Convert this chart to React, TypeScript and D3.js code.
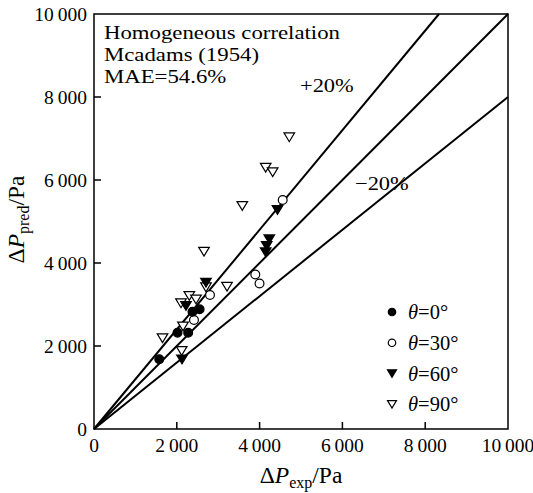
import React from "react";
import * as d3 from "d3";

// [ΔP_exp, ΔP_pred] in Pa
const theta0: [number, number][] = [
  [1577, 1680],
  [2017, 2320],
  [2275, 2320],
  [2379, 2827],
  [2551, 2884],
];
const theta30: [number, number][] = [
  [2415, 2627],
  [2802, 3229],
  [3896, 3723],
  [3998, 3506],
  [4558, 5518],
];
const theta60: [number, number][] = [
  [2705, 3525],
  [2222, 2964],
  [2126, 1675],
  [4234, 4571],
  [4171, 4410],
  [4147, 4258],
  [4432, 5277],
];
const theta90: [number, number][] = [
  [1655, 2186],
  [2101, 3029],
  [2302, 3205],
  [2464, 3120],
  [2150, 2470],
  [2118, 1880],
  [3213, 3429],
  [2705, 3414],
  [4717, 7029],
  [4147, 6296],
  [4316, 6186],
  [3582, 5373],
  [2657, 4272],
];
const ticks = [0, 2000, 4000, 6000, 8000, 10000];
const refLines = [1.2, 1, 0.8];
const legendLabels = ["0", "30", "60", "90"];
const titleLines = ["Homogeneous correlation", "Mcadams (1954)", "MAE=54.6%"];

const W = 533;
const H = 493;
const m = { left: 94, right: 25, top: 14, bottom: 64 };
const font = "Liberation Serif, Times New Roman, serif";

const fmt = (v: number) => {
  const s = String(v);
  return s.length > 3 ? s.slice(0, -3) + "\u2009" + s.slice(-3) : s;
};

type Kind = "fc" | "oc" | "ft" | "ot";

const Marker = ({ x, y, kind, s = 1 }: { x: number; y: number; kind: Kind; s?: number }) => {
  if (kind === "fc" || kind === "oc") {
    return (
      <circle
        cx={x}
        cy={y}
        r={4.4 * s}
        fill={kind === "fc" ? "#000" : "#fff"}
        stroke="#000"
        strokeWidth={1.2}
      />
    );
  }
  const w = 5.3 * s;
  const h = 8.8 * s;
  const pts = `${x - w},${y - h / 2} ${x + w},${y - h / 2} ${x},${y + h / 2}`;
  return (
    <polygon
      points={pts}
      fill={kind === "ft" ? "#000" : "#fff"}
      stroke="#000"
      strokeWidth={1.2}
      strokeLinejoin="miter"
    />
  );
};

export default function App() {
  const x = d3.scaleLinear().domain([0, 10000]).range([m.left, W - m.right]);
  const y = d3.scaleLinear().domain([0, 10000]).range([H - m.bottom, m.top]);
  const [x0, x1] = x.range();
  const [y0, y1] = y.range();

  const line = d3
    .line<[number, number]>()
    .x((d) => x(d[0]))
    .y((d) => y(d[1]));

  const series: { data: [number, number][]; kind: Kind }[] = [
    { data: theta90, kind: "ot" },
    { data: theta30, kind: "oc" },
    { data: theta0, kind: "fc" },
    { data: theta60, kind: "ft" },
  ];
  const legendKinds: Kind[] = ["fc", "oc", "ft", "ot"];

  return (
    <svg
      width={W}
      height={H}
      style={{ position: "absolute", left: 0, top: 0, background: "#fff", fontFamily: font }}
    >
      {/* reference lines: +20%, 0, -20% */}
      {refLines.map((k) => {
        const xe = Math.min(10000, 10000 / k);
        return (
          <path
            key={k}
            d={line([
              [0, 0],
              [xe, xe * k],
            ]) ?? ""}
            fill="none"
            stroke="#000"
            strokeWidth={2}
          />
        );
      })}

      {/* points */}
      {series.map((s) =>
        s.data.map((d, i) => <Marker key={s.kind + i} x={x(d[0])} y={y(d[1])} kind={s.kind} />)
      )}

      {/* frame */}
      <rect x={x0} y={y1} width={x1 - x0} height={y0 - y1} fill="none" stroke="#000" strokeWidth={1.5} />

      {/* ticks */}
      {ticks.slice(1, -1).map((t) => (
        <g key={t}>
          <line x1={x(t)} x2={x(t)} y1={y0} y2={y0 - 7} stroke="#000" strokeWidth={1.5} />
          <line x1={x0} x2={x0 + 7} y1={y(t)} y2={y(t)} stroke="#000" strokeWidth={1.5} />
        </g>
      ))}
      {ticks.map((t) => (
        <g key={"l" + t} fontSize={19.5}>
          <text x={x(t)} y={y0 + 23} textAnchor="middle">
            {fmt(t)}
          </text>
          <text x={x0 - 7} y={y(t) + 6.5} textAnchor="end">
            {fmt(t)}
          </text>
        </g>
      ))}

      {/* axis titles */}
      <text x={(x0 + x1) / 2} y={483} textAnchor="middle" fontSize={23.5}>
        {"\u0394"}
        <tspan fontStyle="italic">P</tspan>
        <tspan fontSize={16} dy={5}>exp</tspan>
        <tspan dy={-5}>/Pa</tspan>
      </text>
      <text
        transform={`translate(24,${(y0 + y1) / 2 - 2}) rotate(-90)`}
        textAnchor="middle"
        fontSize={23.5}
      >
        {"\u0394"}
        <tspan fontStyle="italic">P</tspan>
        <tspan fontSize={16} dy={5}>pred</tspan>
        <tspan dy={-5}>/Pa</tspan>
      </text>

      {/* annotation (reference typeface is wider than Times, so stretch horizontally) */}
      {titleLines.map((t, i) => (
        <text key={t} transform={`translate(104,${39 + i * 22}) scale(1.2,1)`} fontSize={19}>
          {t}
        </text>
      ))}
      <text transform="translate(300,92) scale(1.15,1)" fontSize={19.5}>
        +20%
      </text>
      <text transform="translate(355,190) scale(1.15,1)" fontSize={19.5}>
        {"\u221220%"}
      </text>

      {/* legend */}
      {legendLabels.map((l, i) => {
        const cy = 312 + i * 30.8;
        return (
          <g key={l}>
            <Marker x={392} y={cy} kind={legendKinds[i]} s={0.85} />
            <text x={408} y={cy + 7} fontSize={20.5}>
              <tspan fontStyle="italic">{"\u03b8"}</tspan>
              {`=${l}\u00b0`}
            </text>
          </g>
        );
      })}
    </svg>
  );
}
